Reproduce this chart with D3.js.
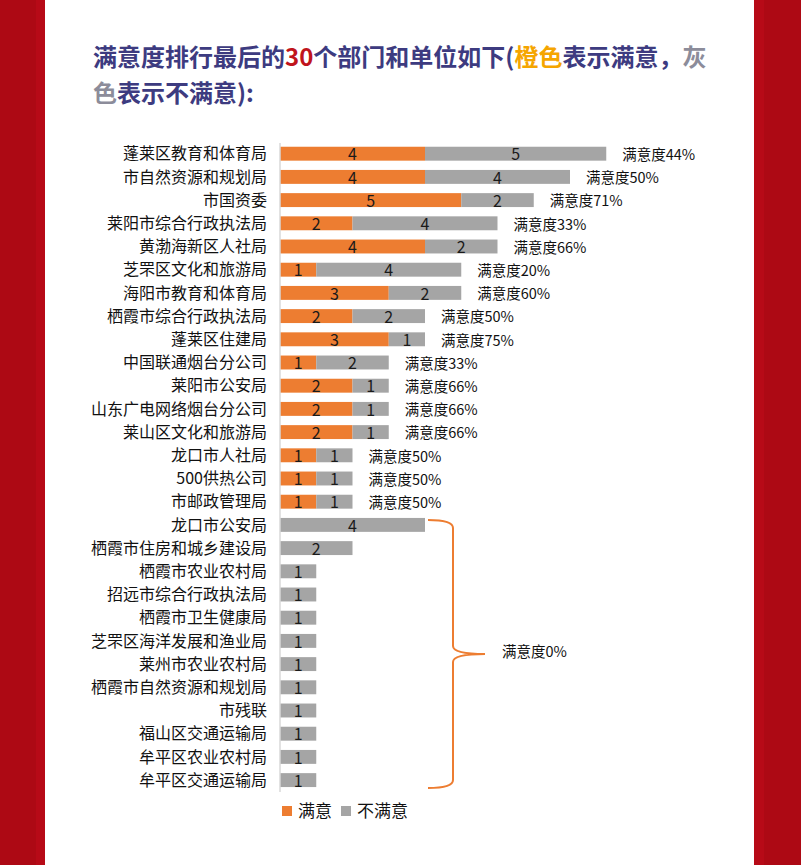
<!DOCTYPE html>
<html>
<head>
  <meta charset="utf-8">
  <script src="https://d3js.org/d3.v7.min.js"></script>
  <style>
    body { margin: 0; background: #fff; }
    svg text { font-family: "Noto Sans CJK SC", "Noto Sans", sans-serif; }
  </style>
</head>
<body>
<script>
  "use strict";

  // data
  var units = ["蓬莱区教育和体育局", "市自然资源和规划局", "市国资委", "莱阳市综合行政执法局",
    "黄渤海新区人社局", "芝罘区文化和旅游局", "海阳市教育和体育局", "栖霞市综合行政执法局",
    "蓬莱区住建局", "中国联通烟台分公司", "莱阳市公安局", "山东广电网络烟台分公司",
    "莱山区文化和旅游局", "龙口市人社局", "500供热公司", "市邮政管理局",
    "龙口市公安局", "栖霞市住房和城乡建设局", "栖霞市农业农村局", "招远市综合行政执法局",
    "栖霞市卫生健康局", "芝罘区海洋发展和渔业局", "莱州市农业农村局", "栖霞市自然资源和规划局",
    "市残联", "福山区交通运输局", "牟平区农业农村局", "牟平区交通运输局"];
  var satisfied   = [4, 4, 5, 2, 4, 1, 3, 2, 3, 1, 2, 2, 2, 1, 1, 1, 0, 0, 0, 0, 0, 0, 0, 0, 0, 0, 0, 0];
  var unsatisfied = [5, 4, 2, 4, 2, 4, 2, 2, 1, 2, 1, 1, 1, 1, 1, 1, 4, 2, 1, 1, 1, 1, 1, 1, 1, 1, 1, 1];
  var rateLabels = ["满意度44%", "满意度50%", "满意度71%", "满意度33%", "满意度66%", "满意度20%",
    "满意度60%", "满意度50%", "满意度75%", "满意度33%", "满意度66%", "满意度66%",
    "满意度66%", "满意度50%", "满意度50%", "满意度50%"];
  var zeroLabel = "满意度0%";
  var seriesNames = ["满意", "不满意"];
  var colors = ["#ed7d31", "#a5a5a5"];

  var W = 801, H = 865;
  var svg = d3.select("body").append("svg")
      .attr("width", W)
      .attr("height", H);

  // red side bands
  svg.append("rect").attr("x", 0).attr("y", 0).attr("width", 45).attr("height", H).attr("fill", "#ad0914");
  svg.append("rect").attr("x", 36).attr("y", 0).attr("width", 9).attr("height", H).attr("fill", "#b70a17");
  svg.append("rect").attr("x", 754).attr("y", 0).attr("width", 47).attr("height", H).attr("fill", "#ad0914");
  svg.append("rect").attr("x", 754).attr("y", 0).attr("width", 10).attr("height", H).attr("fill", "#b70a17");

  // title
  var navy = "#3d3b80";
  var t1 = svg.append("text").attr("x", 93).attr("y", 66)
      .style("font-size", "24px").style("font-weight", "bold").attr("fill", navy);
  t1.append("tspan").text("满意度排行最后的");
  t1.append("tspan").attr("fill", "#c0141c").text("30");
  t1.append("tspan").text("个部门和单位如下(");
  t1.append("tspan").attr("fill", "#f5a500").text("橙色");
  t1.append("tspan").text("表示满意，");
  t1.append("tspan").attr("fill", "#8c8c9a").text("灰");
  var t2 = svg.append("text").attr("x", 93).attr("y", 102)
      .style("font-size", "24px").style("font-weight", "bold").attr("fill", navy);
  t2.append("tspan").attr("fill", "#8c8c9a").text("色");
  t2.append("tspan").text("表示不满意):");

  // scales
  var x = d3.scaleLinear().domain([0, 9]).range([280, 606.25]);
  var y = d3.scaleBand().domain(units).range([142.1, 791.7])
      .paddingInner(0.4).paddingOuter(0.2);

  var rows = units.map(function (u, i) {
    return { name: u, s: satisfied[i], u: unsatisfied[i] };
  });

  // category labels
  svg.append("g").selectAll("text")
    .data(rows).enter().append("text")
      .attr("x", 267)
      .attr("y", function (d) { return y(d.name) + y.bandwidth() / 2; })
      .attr("dy", "0.36em")
      .attr("text-anchor", "end")
      .style("font-size", "16px")
      .attr("fill", "#111")
      .text(function (d) { return d.name; });

  // stacked bars
  var stack = d3.stack().keys(["s", "u"])(rows);
  var layers = svg.append("g").selectAll("g")
    .data(stack).enter().append("g")
      .attr("fill", function (d, i) { return colors[i]; });

  layers.selectAll("rect")
    .data(function (d) { return d; })
    .enter().append("rect")
      .attr("x", function (d) { return x(d[0]); })
      .attr("y", function (d) { return y(d.data.name); })
      .attr("width", function (d) { return x(d[1]) - x(d[0]); })
      .attr("height", y.bandwidth());

  layers.selectAll("text")
    .data(function (d) { return d.filter(function (p) { return p[1] > p[0]; }); })
    .enter().append("text")
      .attr("x", function (d) { return (x(d[0]) + x(d[1])) / 2; })
      .attr("y", function (d) { return y(d.data.name) + y.bandwidth() / 2 + 1; })
      .attr("dy", "0.36em")
      .attr("text-anchor", "middle")
      .style("font-size", "16px")
      .attr("fill", "#1a1a1a")
      .text(function (d) { return d[1] - d[0]; });

  // axis line
  svg.append("line")
    .attr("x1", x(0)).attr("x2", x(0))
    .attr("y1", 143).attr("y2", 792)
    .attr("stroke", "#d9d9d9").attr("stroke-width", 1.5);

  // satisfaction labels
  svg.append("g").selectAll("text")
    .data(rateLabels).enter().append("text")
      .attr("x", function (d, i) { return x(rows[i].s + rows[i].u) + 16; })
      .attr("y", function (d, i) { return y(units[i]) + y.bandwidth() / 2 + 1; })
      .attr("dy", "0.36em")
      .style("font-size", "14.5px")
      .attr("fill", "#111")
      .text(function (d) { return d; });

  // brace for 0% group
  var zeroRows = rows.filter(function (d) { return d.s === 0; });
  var braceTop = y(zeroRows[0].name) + 2,
      braceBottom = y(zeroRows[zeroRows.length - 1].name) + y.bandwidth() + 1,
      braceMid = (braceTop + braceBottom) / 2,
      tipX = x(d3.max(zeroRows, function (d) { return d.u; })) + 3,
      spineX = tipX + 25,
      midX = spineX + 32,
      r = 8;
  var p = d3.path();
  p.moveTo(tipX, braceTop);
  p.quadraticCurveTo(spineX, braceTop, spineX, braceTop + r);
  p.lineTo(spineX, braceMid - r);
  p.quadraticCurveTo(spineX, braceMid, midX, braceMid);
  p.moveTo(midX, braceMid);
  p.quadraticCurveTo(spineX, braceMid, spineX, braceMid + r);
  p.lineTo(spineX, braceBottom - r);
  p.quadraticCurveTo(spineX, braceBottom, tipX, braceBottom);
  svg.append("path")
    .attr("d", p.toString())
    .attr("fill", "none")
    .attr("stroke", "#ed7d31")
    .attr("stroke-width", 2);

  svg.append("text")
    .attr("x", midX + 17)
    .attr("y", braceMid - 2)
    .attr("dy", "0.36em")
    .style("font-size", "14.5px")
    .attr("fill", "#111")
    .text(zeroLabel);

  // legend
  var legend = svg.append("g").attr("transform", "translate(282,806)");
  var lx = [0, 59];
  seriesNames.forEach(function (name, i) {
    legend.append("rect")
      .attr("x", lx[i]).attr("y", 0)
      .attr("width", 10).attr("height", 10)
      .attr("fill", colors[i]);
    legend.append("text")
      .attr("x", lx[i] + 16).attr("y", 5)
      .attr("dy", "0.36em")
      .style("font-size", "17px")
      .attr("fill", "#111")
      .text(name);
  });
</script>
</body>
</html>
